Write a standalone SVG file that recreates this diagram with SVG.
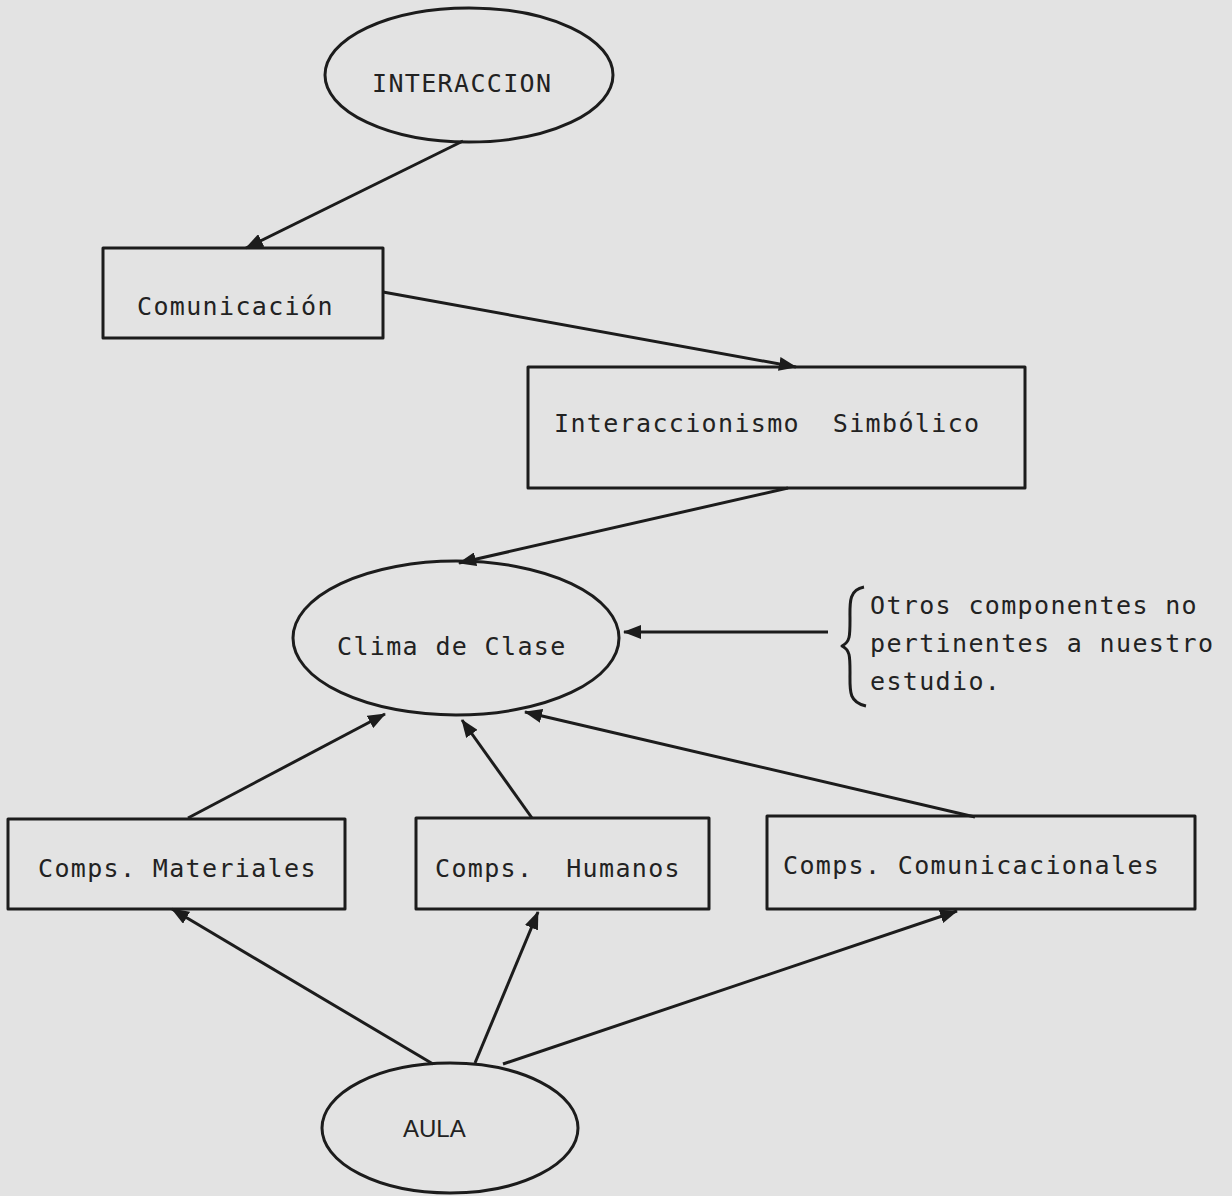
<svg xmlns="http://www.w3.org/2000/svg" width="1232" height="1196" viewBox="0 0 1232 1196">
  <style>
    .shape { fill: none; stroke: #1c1c1c; stroke-width: 3; stroke-linejoin: round; }
    .edge { fill: none; stroke: #1c1c1c; stroke-width: 3; marker-end: url(#head); }
    .lbl { font-family: "DejaVu Sans Mono", "Liberation Mono", monospace; font-size: 25px; letter-spacing: 1.35px; fill: #222; white-space: pre; }
    .caps { font-family: "Liberation Sans", Arial, sans-serif; font-size: 24px; fill: #222; }
  </style>
  <defs>
    <marker id="head" viewBox="0 0 18 14" refX="17" refY="7" markerWidth="18" markerHeight="14" markerUnits="userSpaceOnUse" orient="auto">
      <path d="M0,0 L18,7 L0,14 z" fill="#1c1c1c"/>
    </marker>
  </defs>
  <rect width="1232" height="1196" fill="#e3e3e3"/>

  <!-- connectors -->
  <g id="connectors">
    <line class="edge" x1="463" y1="141" x2="246" y2="248"/>
    <line class="edge" x1="383" y1="292" x2="796" y2="367"/>
    <line class="edge" x1="788" y1="488" x2="459" y2="563"/>
    <line class="edge" x1="828" y1="632" x2="624" y2="632"/>
    <line class="edge" x1="188" y1="818" x2="385" y2="714"/>
    <line class="edge" x1="532" y1="818" x2="462" y2="720"/>
    <line class="edge" x1="975" y1="817" x2="525" y2="712"/>
    <line class="edge" x1="433" y1="1064" x2="172" y2="909"/>
    <line class="edge" x1="475" y1="1063" x2="538" y2="912"/>
    <line class="edge" x1="503" y1="1064" x2="957" y2="911"/>
  </g>

  <!-- nodes -->
  <g id="interaccion">
    <ellipse class="shape" cx="469" cy="75" rx="144" ry="67"/>
    <text class="lbl" x="372" y="92">INTERACCION</text>
  </g>
  <g id="comunicacion">
    <rect class="shape" x="103" y="248" width="280" height="90"/>
    <text class="lbl" x="137" y="315">Comunicación</text>
  </g>
  <g id="interaccionismo">
    <rect class="shape" x="528" y="367" width="497" height="121"/>
    <text class="lbl" x="554" y="432">Interaccionismo  Simbólico</text>
  </g>
  <g id="clima">
    <ellipse class="shape" cx="456" cy="638" rx="163" ry="77"/>
    <text class="lbl" x="337" y="655">Clima de Clase</text>
  </g>
  <g id="otros">
    <path class="shape" d="M864,587 C848,590 850,604 850,620 C850,636 850,642 842,646 C850,650 850,656 850,672 C850,690 848,702 866,706"/>
    <text class="lbl" x="870" y="614">Otros componentes no</text>
    <text class="lbl" x="870" y="652">pertinentes a nuestro</text>
    <text class="lbl" x="870" y="690">estudio.</text>
  </g>
  <g id="materiales">
    <rect class="shape" x="8" y="819" width="337" height="90"/>
    <text class="lbl" x="38" y="877">Comps. Materiales</text>
  </g>
  <g id="humanos">
    <rect class="shape" x="416" y="818" width="293" height="91"/>
    <text class="lbl" x="435" y="877">Comps.  Humanos</text>
  </g>
  <g id="comunicacionales">
    <rect class="shape" x="767" y="816" width="428" height="93"/>
    <text class="lbl" x="783" y="874">Comps. Comunicacionales</text>
  </g>
  <g id="aula">
    <ellipse class="shape" cx="450" cy="1128" rx="128" ry="65"/>
    <text class="caps" x="403" y="1137">AULA</text>
  </g>
</svg>
